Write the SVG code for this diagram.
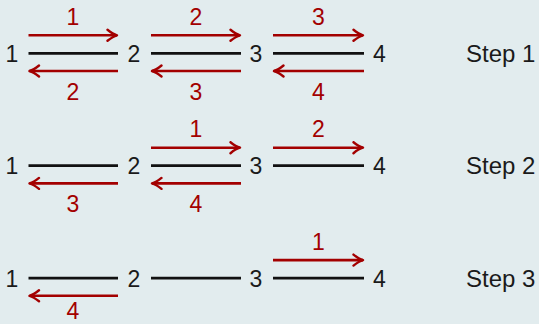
<svg xmlns="http://www.w3.org/2000/svg" width="539" height="324" viewBox="0 0 539 324">
<defs>
<style>
.t{font-family:"Liberation Sans",Arial,sans-serif;font-size:23px;fill:#1a1a1a;text-anchor:middle}
.s{font-family:"Liberation Sans",Arial,sans-serif;font-size:24px;fill:#1a1a1a}
.r{font-family:"Liberation Sans",Arial,sans-serif;font-size:23px;fill:#a30000;text-anchor:middle}
.edge{stroke:#111;stroke-width:2.7;fill:none}
.arr{stroke:#a30000;stroke-width:2.6;fill:none;marker-end:url(#tip)}
</style>
<marker id="tip" markerUnits="userSpaceOnUse" viewBox="-12 -7 14 14" refX="0" refY="0" markerWidth="14" markerHeight="14" orient="auto">
<path d="M-9.5,-5.5 Q-4,-1 0,0 Q-4,1 -9.5,5.5" stroke="#a30000" stroke-width="2.4" fill="none" stroke-linecap="round" stroke-linejoin="round"/>
</marker>
</defs>
<rect width="539" height="324" fill="#e2ecee"/>

<g id="row1">
  <g id="r1-n1"><text class="t" x="12" y="62">1</text></g>
  <g id="r1-n2"><text class="t" x="134" y="62">2</text></g>
  <g id="r1-n3"><text class="t" x="256" y="62">3</text></g>
  <g id="r1-n4"><text class="t" x="379.5" y="62">4</text></g>
  <g id="r1-step"><text class="s" x="466" y="62">Step 1</text></g>
</g>
<g id="row2" transform="translate(0,112.4)">
  <g id="r2-n1"><text class="t" x="12" y="62">1</text></g>
  <g id="r2-n2"><text class="t" x="134" y="62">2</text></g>
  <g id="r2-n3"><text class="t" x="256" y="62">3</text></g>
  <g id="r2-n4"><text class="t" x="379.5" y="62">4</text></g>
  <g id="r2-step"><text class="s" x="466" y="62">Step 2</text></g>
</g>
<g id="row3" transform="translate(0,224.8)">
  <g id="r3-n1"><text class="t" x="12" y="62">1</text></g>
  <g id="r3-n2"><text class="t" x="134" y="62">2</text></g>
  <g id="r3-n3"><text class="t" x="256" y="62">3</text></g>
  <g id="r3-n4"><text class="t" x="379.5" y="62">4</text></g>
  <g id="r3-step"><text class="s" x="466" y="62">Step 3</text></g>
</g>

<g id="connectors">
  <g id="c-row1">
    <line class="edge" x1="28.5" y1="53.3" x2="118" y2="53.3"/>
    <line class="edge" x1="151" y1="53.3" x2="241" y2="53.3"/>
    <line class="edge" x1="273" y1="53.3" x2="364" y2="53.3"/>
    <line class="arr" x1="28.5" y1="35.3" x2="117" y2="35.3"/>
    <line class="arr" x1="151" y1="35.3" x2="240" y2="35.3"/>
    <line class="arr" x1="273" y1="35.3" x2="363" y2="35.3"/>
    <line class="arr" x1="118" y1="71" x2="29.5" y2="71"/>
    <line class="arr" x1="241" y1="71" x2="152" y2="71"/>
    <line class="arr" x1="364" y1="71" x2="274" y2="71"/>
    <text class="r" x="73" y="25">1</text>
    <text class="r" x="196" y="25">2</text>
    <text class="r" x="318.5" y="25">3</text>
    <text class="r" x="73" y="100">2</text>
    <text class="r" x="196" y="100">3</text>
    <text class="r" x="318.5" y="100">4</text>
  </g>
  <g id="c-row2" transform="translate(0,112.4)">
    <line class="edge" x1="28.5" y1="53.3" x2="118" y2="53.3"/>
    <line class="edge" x1="151" y1="53.3" x2="241" y2="53.3"/>
    <line class="edge" x1="273" y1="53.3" x2="364" y2="53.3"/>
    <line class="arr" x1="151" y1="35.3" x2="240" y2="35.3"/>
    <line class="arr" x1="273" y1="35.3" x2="363" y2="35.3"/>
    <line class="arr" x1="118" y1="71" x2="29.5" y2="71"/>
    <line class="arr" x1="241" y1="71" x2="152" y2="71"/>
    <text class="r" x="196" y="25">1</text>
    <text class="r" x="318.5" y="25">2</text>
    <text class="r" x="73" y="100">3</text>
    <text class="r" x="196" y="100">4</text>
  </g>
  <g id="c-row3" transform="translate(0,224.8)">
    <line class="edge" x1="28.5" y1="53.3" x2="118" y2="53.3"/>
    <line class="edge" x1="151" y1="53.3" x2="241" y2="53.3"/>
    <line class="edge" x1="273" y1="53.3" x2="364" y2="53.3"/>
    <line class="arr" x1="273" y1="35.3" x2="363" y2="35.3"/>
    <line class="arr" x1="118" y1="71" x2="29.5" y2="71"/>
    <text class="r" x="318.5" y="25">1</text>
    <text class="r" x="73" y="94.5">4</text>
  </g>
</g>
</svg>
